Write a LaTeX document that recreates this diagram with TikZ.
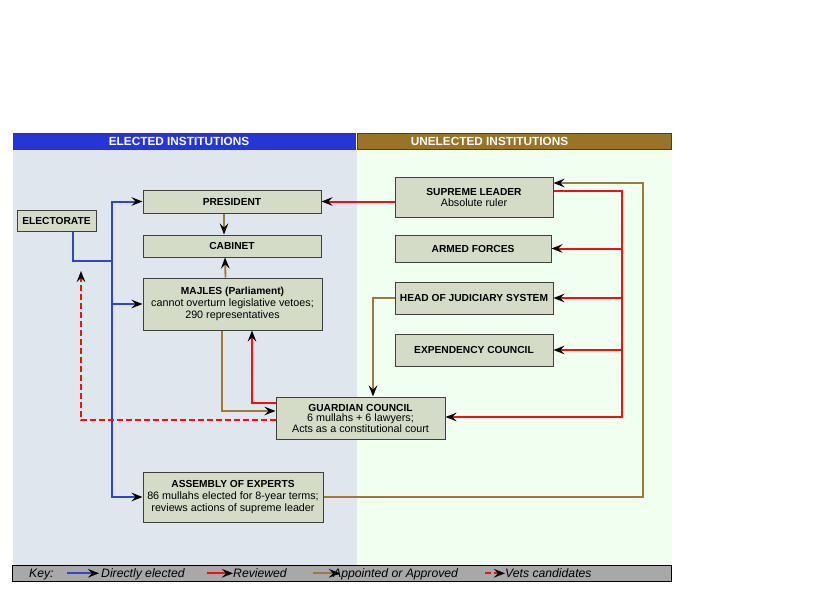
\documentclass[tikz,border=0pt]{standalone}
\usepackage{fontspec}
\setmainfont{Liberation Sans}
\usetikzlibrary{arrows.meta,positioning}
\definecolor{boxfill}{HTML}{D4DCC8}
\definecolor{boxline}{HTML}{404040}
\definecolor{elecbar}{HTML}{2536D6}
\definecolor{unelbar}{HTML}{9A7228}
\definecolor{elecbg}{HTML}{DFE6EE}
\definecolor{unelbg}{HTML}{F0FFF0}
\definecolor{keybg}{HTML}{A8A8A8}
\definecolor{bluewire}{HTML}{3344CC}
\definecolor{redwire}{HTML}{EE1111}
\definecolor{brownwire}{HTML}{9C7A3C}
\newcommand{\insttitle}[1]{{\fontsize{10.2}{11}\selectfont\bfseries #1}}
\tikzset{
  inst/.style      = {draw=boxline, fill=boxfill, line width=1pt, inner sep=1pt,
                      align=center, font=\fontsize{10.75}{11}\selectfont},
  tallinst/.style  = {inst, font=\fontsize{10.75}{12.3}\selectfont},
  headtext/.style  = {text=white, font=\fontsize{11.8}{13}\selectfont\bfseries},
  keytext/.style   = {anchor=base west, inner sep=0pt, font=\fontsize{12.2}{14}\selectfont\itshape},
  tip/.style       = {-{Stealth[length=11pt,width=8.5pt,inset=4pt,black]}},
  elected/.style   = {tip, bluewire, line width=2pt},
  reviewed/.style  = {tip, redwire, line width=2pt},
  appointed/.style = {tip, brownwire, line width=1.8pt},
  vets/.style      = {tip, redwire, line width=1.8pt, dash pattern=on 6pt off 3pt},
}
\begin{document}
\begin{tikzpicture}[x=1pt,y=-1pt]
  \useasboundingbox (0,0) rectangle (820,600);
  % panels and headers
  \fill[elecbg] (13,149) rectangle (357,565);
  \fill[unelbg] (357,149) rectangle (672,565);
  \draw[boxline, fill=elecbar, line width=0.8pt] (13,133) rectangle (355,149);
  \draw[boxline, fill=unelbar, line width=0.8pt] (357,133) rectangle (671,149);
  \node[headtext] (elechead) at (179,141) {ELECTED INSTITUTIONS};
  \node[headtext] (unelhead) at (489.5,141) {UNELECTED INSTITUTIONS};

  % institutions
  \node[inst, minimum width=79, minimum height=21] (electorate) at (56.5,220.5) {\insttitle{ELECTORATE}};
  \node[inst, minimum width=178, minimum height=23] (president) at (232,201.5) {\insttitle{PRESIDENT}};
  \node[inst, minimum width=178, minimum height=22] (cabinet) at (232,246) {\insttitle{CABINET}};
  \node[tallinst, minimum width=179, minimum height=52] (majles) at (232.5,304)
      {\insttitle{MAJLES (Parliament)}\\cannot overturn legislative vetoes;\\290 representatives};
  \node[tallinst, minimum width=180, minimum height=50] (assembly) at (233,497)
      {\insttitle{ASSEMBLY OF EXPERTS}\\86 mullahs elected for 8-year terms;\\reviews actions of supreme leader};
  \node[inst, minimum width=158, minimum height=40] (supreme) at (474,197)
      {\insttitle{SUPREME LEADER}\\Absolute ruler};
  \node[inst, minimum width=156, minimum height=27] (armed) at (473,248.5) {\insttitle{ARMED FORCES}};
  \node[inst, minimum width=158, minimum height=32] (judiciary) at (474,298) {\insttitle{HEAD OF JUDICIARY SYSTEM}};
  \node[inst, minimum width=158, minimum height=32] (expediency) at (474,350) {\insttitle{EXPENDENCY COUNCIL}};
  \node[inst, font=\fontsize{10.75}{10.5}\selectfont, minimum width=169, minimum height=42] (guardian) at (360.5,418)
      {\insttitle{GUARDIAN COUNCIL}\\6 mullahs + 6 lawyers;\\Acts as a constitutional court};

  \coordinate (bluebus) at (112,261);
  \coordinate (redbus) at (622,417);
  \coordinate (brownbus) at (643,300);
  \coordinate (vetsend) at (81,271);

  % directly elected
  \draw[bluewire, line width=2pt] ([xshift=16.5]electorate.south) |- (bluebus);
  \draw[elected] (bluebus) |- (president.west);
  \draw[elected] (bluebus) |- (majles.west);
  \draw[elected] (bluebus) |- (assembly.west);

  % appointed or approved
  \draw[appointed] ([xshift=-8]president.south) -- ([xshift=-8]cabinet.north);
  \draw[appointed] ([xshift=-7]majles.north) -- ([xshift=-7]cabinet.south);
  \draw[appointed] ([xshift=-10.5]majles.south) |- ([yshift=7]guardian.west);
  \draw[appointed] (judiciary.west) -| ([xshift=12.5]guardian.north);
  \draw[appointed] (assembly.east) -| (brownbus) |- ([yshift=14]supreme.east);

  % reviewed
  \draw[reviewed] ([yshift=15]guardian.west) -| ([xshift=19.5]majles.south);
  \draw[reviewed] (supreme.west |- president.east) -- (president.east);
  \draw[reviewed] ([yshift=6]supreme.east) -| (redbus) -- (redbus -| guardian.east);
  \draw[reviewed] (redbus |- armed.east) -- (armed.east);
  \draw[reviewed] (redbus |- judiciary.east) -- (judiciary.east);
  \draw[reviewed] (redbus |- expediency.east) -- (expediency.east);

  % vets candidates
  \draw[vets] ([yshift=-2]guardian.west) -| (vetsend);

  % key
  \draw[black, fill=keybg, line width=1pt] (12,565) rectangle (671,581);
  \node[keytext] (keylabel) at (29,577.3) {Key:};
  \node[keytext] (keyelected) at (101,577.3) {Directly elected};
  \node[keytext] (keyreviewed) at (233,577.3) {Reviewed};
  \node[keytext] (keyappointed) at (333,577.3) {Appointed or Approved};
  \node[keytext] (keyvets) at (505,577.3) {Vets candidates};
  \draw[elected] ([xshift=-34,yshift=4]keyelected.base west) -- ([xshift=-2,yshift=4]keyelected.base west);
  \draw[reviewed] ([xshift=-26,yshift=4]keyreviewed.base west) -- ([yshift=4]keyreviewed.base west);
  \draw[appointed] ([xshift=-20,yshift=4]keyappointed.base west) -- ([xshift=7,yshift=4]keyappointed.base west);
  \draw[vets] ([xshift=-20,yshift=4]keyvets.base west) -- ([yshift=4]keyvets.base west);
\end{tikzpicture}
\end{document}
